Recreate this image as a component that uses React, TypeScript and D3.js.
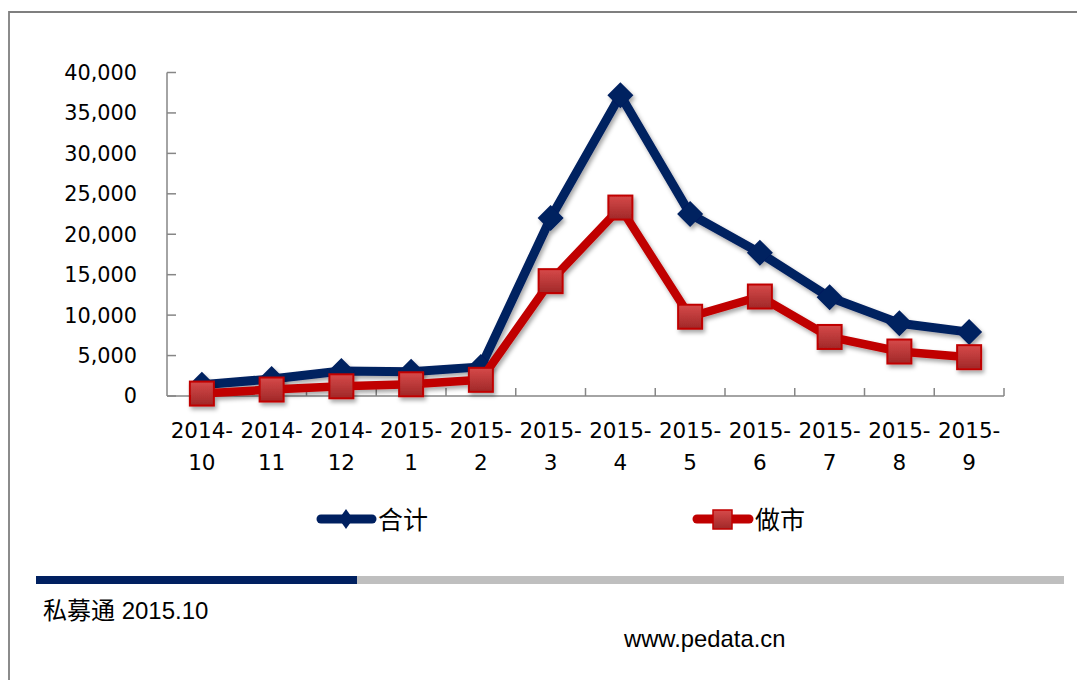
import React from "react";
import * as d3 from "d3";

const categories = ["2014-10", "2014-11", "2014-12", "2015-1", "2015-2", "2015-3", "2015-4", "2015-5", "2015-6", "2015-7", "2015-8", "2015-9"];
const totalValues = [1400, 2100, 3100, 3000, 3600, 22000, 37200, 22500, 17700, 12200, 9000, 7900];
const marketMakingValues = [300, 800, 1200, 1450, 2000, 14200, 23300, 9800, 12300, 7300, 5500, 4800];
const yTicks = [0, 5000, 10000, 15000, 20000, 25000, 30000, 35000, 40000];
const seriesNames = ["合计", "做市"];
const sourceText = "私募通 2015.10";
const siteText = "www.pedata.cn";

const NAVY = "#002060";
const RED = "#C00000";
const AXIS = "#868686";

export default function App() {
  const W = 1077, H = 680;
  const x = d3.scaleBand<string>().domain(categories).range([167, 1004]);
  const y = d3.scaleLinear().domain([0, 40000]).range([396, 72.5]);
  const cx = (c: string) => (x(c) as number) + x.bandwidth() / 2;
  const fmt = d3.format(",");

  const line = d3.line<number>().x((_, i) => cx(categories[i])).y((v) => y(v));

  const diamond = (px: number, py: number, hw: number, hh: number) =>
    `M${px},${py - hh}L${px + hw},${py}L${px},${py + hh}L${px - hw},${py}Z`;

  const labelFont = "'DejaVu Sans', sans-serif";

  return (
    <div style={{ position: "fixed", left: 0, top: 0, width: W, height: H, background: "#fff" }}>
      <svg width={W} height={H} style={{ display: "block" }}>
        <defs>
          <filter id="shadow" x="-50%" y="-50%" width="200%" height="200%">
            <feDropShadow dx="2" dy="3" stdDeviation="2" floodColor="#000" floodOpacity="0.35" />
          </filter>
          <linearGradient id="sqGrad" x1="0" y1="0" x2="0" y2="1">
            <stop offset="0%" stopColor="#D64A4A" />
            <stop offset="100%" stopColor="#A02828" />
          </linearGradient>
        </defs>

        {/* outer frame */}
        <path d={`M9,${H}L9,12L${W},12`} fill="none" stroke="#7F7F7F" strokeWidth={1.8} />

        {/* y axis */}
        <line x1={167} x2={167} y1={y(40000)} y2={y(0)} stroke={AXIS} strokeWidth={1.5} />
        {yTicks.map((t) => (
          <g key={t}>
            <line x1={167} x2={176} y1={y(t)} y2={y(t)} stroke={AXIS} strokeWidth={1.5} />
            <text x={137} y={y(t)} dy="0.36em" textAnchor="end" fontFamily={labelFont} fontSize={20.8} fill="#000">
              {fmt(t)}
            </text>
          </g>
        ))}

        {/* x axis */}
        <line x1={167} x2={1004} y1={y(0)} y2={y(0)} stroke={AXIS} strokeWidth={1.5} />
        {categories.map((c) => (
          <line key={"t" + c} x1={(x(c) as number) + x.bandwidth()} x2={(x(c) as number) + x.bandwidth()} y1={y(0)} y2={y(0) - 8} stroke={AXIS} strokeWidth={1.5} />
        ))}
        {categories.map((c) => {
          const [a, b] = c.split("-");
          return (
            <text key={"l" + c} x={cx(c)} textAnchor="middle" fontFamily={labelFont} fontSize={21.5} fill="#000">
              <tspan x={cx(c)} y={438}>{a + "-"}</tspan>
              <tspan x={cx(c)} y={470}>{b}</tspan>
            </text>
          );
        })}

        {/* total series */}
        <g filter="url(#shadow)">
          <path d={line(totalValues) || ""} fill="none" stroke={NAVY} strokeWidth={9} strokeLinejoin="round" />
          {totalValues.map((v, i) => (
            <path key={"d" + i} d={diamond(cx(categories[i]), y(v), 13, 13)} fill={NAVY} />
          ))}
        </g>

        {/* market-making series */}
        <g filter="url(#shadow)">
          <path d={line(marketMakingValues) || ""} fill="none" stroke={RED} strokeWidth={8.5} strokeLinejoin="round" />
          {marketMakingValues.map((v, i) => (
            <rect key={"s" + i} x={cx(categories[i]) - 12} y={y(v) - 12} width={24} height={24} fill="url(#sqGrad)" stroke={RED} strokeWidth={2} />
          ))}
        </g>

        {/* legend */}
        <g>
          <line x1={321} x2={372} y1={519} y2={519} stroke={NAVY} strokeWidth={9} strokeLinecap="round" />
          <path d={diamond(346, 519, 7, 10)} fill={NAVY} />
          <text x={378} y={529} fontFamily="'Noto Sans CJK SC', sans-serif" fontSize={25} fill="#000">{seriesNames[0]}</text>
          <line x1={697} x2={749} y1={519} y2={519} stroke={RED} strokeWidth={9} strokeLinecap="round" />
          <rect x={713} y={510} width={19} height={19} fill="url(#sqGrad)" stroke={RED} strokeWidth={1.5} />
          <text x={755} y={529} fontFamily="'Noto Sans CJK SC', sans-serif" fontSize={25} fill="#000">{seriesNames[1]}</text>
        </g>

        {/* bottom bar */}
        <rect x={357} y={576} width={707} height={8} fill="#BFBFBF" />
        <rect x={36} y={576} width={321} height={8} fill={NAVY} />

        <text x={43} y={619} fontFamily="'Liberation Sans', 'Noto Sans CJK SC', sans-serif" fontSize={24} fill="#000">{sourceText}</text>
        <text x={624} y={647} fontFamily="'Liberation Sans', Arial, sans-serif" fontSize={23.8} fill="#000">{siteText}</text>
      </svg>
    </div>
  );
}
